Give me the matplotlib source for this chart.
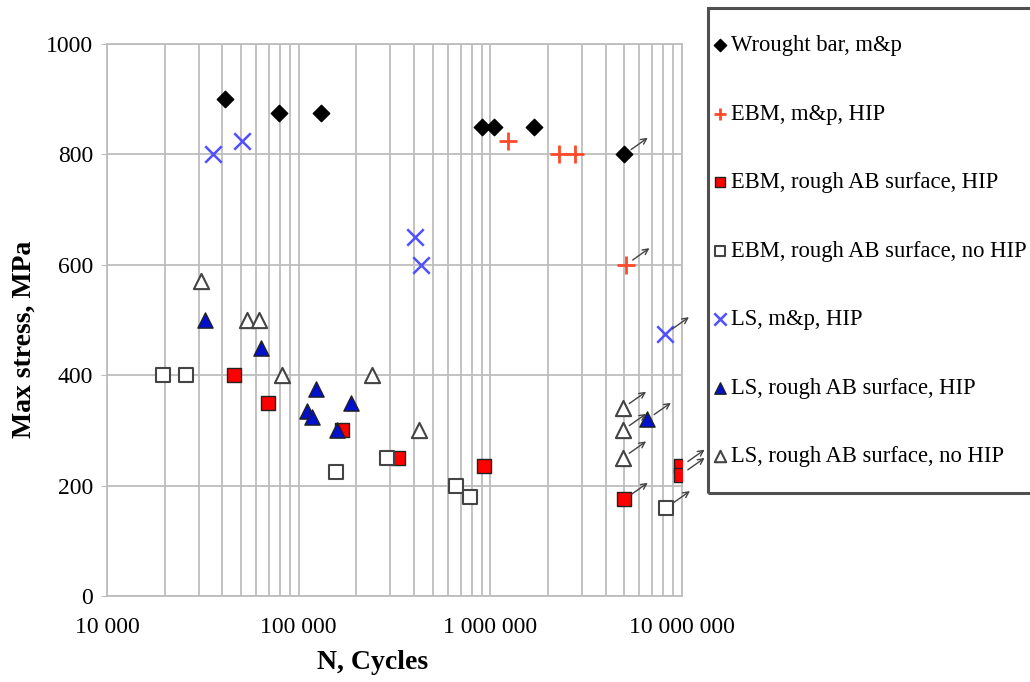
import matplotlib.pyplot as plt
from matplotlib.patches import Rectangle
from matplotlib.ticker import FixedLocator, FuncFormatter, LogLocator

plt.rcParams['font.family'] = ['Liberation Serif', 'DejaVu Serif']

# Daten, Pfeil = Durchläufer (runout)
wrought_n = [41000, 79000, 130000, 900000, 1050000, 1700000, 5000000]
wrought_s = [900, 875, 875, 850, 850, 850, 800]
wrought_run = [False, False, False, False, False, False, True]

ebm_mp_n = [1230000, 2280000, 2760000, 5100000]
ebm_mp_s = [825, 800, 800, 600]
ebm_mp_run = [False, False, False, True]

ebm_ab_hip_n = [46000, 69000, 168000, 330000, 930000, 5000000, 9900000, 9900000]
ebm_ab_hip_s = [400, 350, 300, 250, 235, 175, 235, 220]
ebm_ab_hip_run = [False, False, False, False, False, True, True, True]

ebm_ab_n = [19500, 25800, 157000, 290000, 660000, 780000, 8300000]
ebm_ab_s = [400, 400, 225, 250, 200, 180, 160]
ebm_ab_run = [False, False, False, False, False, False, True]

ls_mp_n = [35700, 50600, 404000, 435000, 8200000]
ls_mp_s = [800, 825, 650, 600, 475]
ls_mp_run = [False, False, False, False, True]

ls_ab_hip_n = [32400, 63500, 123000, 110000, 117000, 187000, 158000, 6600000]
ls_ab_hip_s = [500, 450, 375, 335, 325, 350, 300, 320]
ls_ab_hip_run = [False, False, False, False, False, False, False, True]

ls_ab_n = [31000, 53800, 62000, 81800, 241000, 424000, 4900000, 4900000, 4900000]
ls_ab_s = [570, 500, 500, 400, 400, 300, 340, 300, 250]
ls_ab_run = [False, False, False, False, False, False, True, True, True]

labels = ["Wrought bar, m&p", "EBM, m&p, HIP", "EBM, rough AB surface, HIP",
          "EBM, rough AB surface, no HIP", "LS, m&p, HIP",
          "LS, rough AB surface, HIP", "LS, rough AB surface, no HIP"]

series = [
    (wrought_n, wrought_s, wrought_run, dict(marker='D', s=70, c='black', edgecolors='black')),
    (ebm_mp_n, ebm_mp_s, ebm_mp_run, dict(marker='+', s=150, c='#ff4a2a', linewidths=2)),
    (ebm_ab_hip_n, ebm_ab_hip_s, ebm_ab_hip_run, dict(marker='s', s=110, c='#ff0000', edgecolors='#222222', linewidths=1)),
    (ebm_ab_n, ebm_ab_s, ebm_ab_run, dict(marker='s', s=110, c='white', edgecolors='#444444', linewidths=1.5)),
    (ls_mp_n, ls_mp_s, ls_mp_run, dict(marker='x', s=140, c='#5050ff', linewidths=1.8)),
    (ls_ab_hip_n, ls_ab_hip_s, ls_ab_hip_run, dict(marker='^', s=120, c='#0010cc', edgecolors='#222222', linewidths=1)),
    (ls_ab_n, ls_ab_s, ls_ab_run, dict(marker='^', s=120, c='white', edgecolors='#444444', linewidths=1.5)),
]

fig = plt.figure(figsize=(10.3, 6.82), dpi=100)
ax = fig.add_axes([0.104, 0.126, 0.558, 0.8095])

handles = []
for (n, s, run, style), lab in zip(series, labels):
    h = ax.scatter(n, s, label=lab, zorder=3, **style)
    handles.append(h)
    # Pfeile für Durchläufer
    for xi, yi, r in zip(n, s, run):
        if r:
            ax.annotate("", xy=(xi, yi), xytext=(17, 12), textcoords='offset points',
                        arrowprops=dict(arrowstyle='<-', color='#444444', lw=1,
                                        shrinkA=0, shrinkB=6), zorder=4)

ax.set_xscale('log')
ax.set_xlim(1e4, 1e7)
ax.set_ylim(0, 1000)
ax.xaxis.set_major_locator(FixedLocator([1e4, 1e5, 1e6, 1e7]))
ax.xaxis.set_minor_locator(LogLocator(base=10, subs=range(2, 10)))
ax.xaxis.set_major_formatter(FuncFormatter(lambda v, p: f"{int(round(v)):,}".replace(",", " ")))
ax.xaxis.set_minor_formatter(FuncFormatter(lambda v, p: ""))
ax.set_yticks([0, 200, 400, 600, 800, 1000])

ax.grid(True, which='both', axis='x', color='#bdbdbd', lw=1.3)
ax.grid(True, which='major', axis='y', color='#bdbdbd', lw=1.3)
for sp in ax.spines.values():
    sp.set_color('#bdbdbd')
    sp.set_linewidth(1.3)
ax.tick_params(axis='x', which='both', length=0, pad=15, labelsize=17)
ax.tick_params(axis='y', length=4, color='#bdbdbd', pad=6, labelsize=17)

ax.set_xlabel("N, Cycles", fontsize=20, fontweight='bold')
ax.set_ylabel("Max stress, MPa", fontsize=20, fontweight='bold')
ax.xaxis.set_label_coords(0.461, -0.097)
ax.yaxis.set_label_coords(-0.123, 0.465)

# Legendenrahmen
fig.patches.append(Rectangle((708 / 1030, 1 - 493 / 682), 330 / 1030, 485 / 682,
                             transform=fig.transFigure, fill=False,
                             edgecolor='#505050', lw=2.2))
fig.legend(handles=handles, labels=labels, loc='upper left',
           bbox_to_anchor=(703 / 1030, 1 - 26 / 682), frameon=False,
           fontsize=16.3, labelspacing=2.1, handlelength=0.7, handletextpad=0.15,
           scatterpoints=1, markerscale=0.75, borderaxespad=0)

fig.savefig("out.png", dpi=100)
